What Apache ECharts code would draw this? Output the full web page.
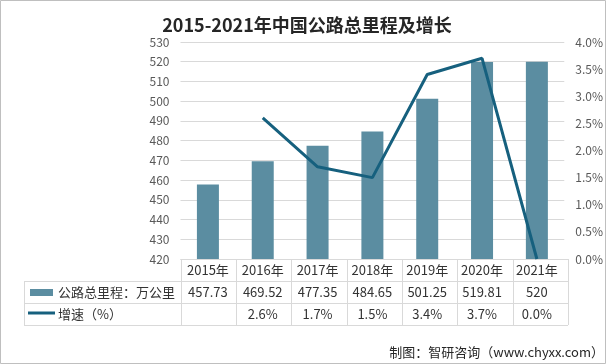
<!DOCTYPE html>
<html><head><meta charset="utf-8">
<script src="https://cdn.jsdelivr.net/npm/echarts@6/dist/echarts.min.js"></script>
<style>html,body{margin:0;padding:0;background:#fff}#c{width:606px;height:364px}</style>
</head><body><div id="c"></div>
<script>
const title = '2015-2021年中国公路总里程及增长';
const categories = ['2015年','2016年','2017年','2018年','2019年','2020年','2021年'];
const mileage = [457.73, 469.52, 477.35, 484.65, 501.25, 519.81, 520];
const mileageLabels = ['457.73','469.52','477.35','484.65','501.25','519.81','520'];
const growth = [null, 2.6, 1.7, 1.5, 3.4, 3.7, 0.0];
const growthLabels = ['', '2.6%', '1.7%', '1.5%', '3.4%', '3.7%', '0.0%'];
const seriesNames = ['公路总里程：万公里', '增速（%）'];
const source = '制图：智研咨询（www.chyxx.com）';

const FONT = '"Noto Sans CJK SC","Noto Sans",sans-serif';
const barColor = '#5b8da1';
const lineColor = '#16607e';
const gridColor = '#d9d9d9';
const textColor = '#595959';

const G = {left: 180.5, right: 38, top: 42, bottom: 105};
const chart = echarts.init(document.getElementById('c'));
chart.setOption({
  animation: false,
  backgroundColor: '#fff',
  title: {text: title, left: 302, top: 11, textAlign: 'center',
    textStyle: {fontFamily: FONT, fontSize: 18, fontWeight: 'bold', color: '#262626'}},
  grid: G,
  xAxis: {type: 'category', data: categories, axisLine: {show: false}, axisTick: {show: false},
    axisLabel: {show: false}},
  yAxis: [
    {type: 'value', min: 420, max: 530, interval: 10, axisLine: {show: false}, axisTick: {show: false},
     splitLine: {lineStyle: {color: gridColor}},
     axisLabel: {color: textColor, fontSize: 12, margin: 11, fontFamily: FONT}},
    {type: 'value', min: 0, max: 4, interval: 0.5, axisLine: {show: false}, axisTick: {show: false},
     splitLine: {show: false},
     axisLabel: {color: textColor, fontSize: 12, margin: 11, fontFamily: FONT,
       formatter: v => v.toFixed(1) + '%'}}
  ],
  series: [
    {name: seriesNames[0], type: 'bar', data: mileage, barWidth: 22, itemStyle: {color: barColor}},
    {name: seriesNames[1], type: 'line', yAxisIndex: 1, data: growth, symbol: 'none',
     lineStyle: {color: lineColor, width: 3}, itemStyle: {color: lineColor}}
  ]
});

// Data table built from the arrays, aligned to the category axis
const els = [];
const rowY = [259, 281, 303, 325];
const tableLeft = 24;
const plotRight = 606 - G.right;
const n = categories.length;
const colW = (plotRight - G.left) / n;
const ls = {stroke: gridColor, lineWidth: 1};
els.push({type: 'line', shape: {x1: G.left, y1: rowY[0] + 0.5, x2: plotRight, y2: rowY[0] + 0.5}, style: ls});
for (let r = 1; r < 4; r++) els.push({type: 'line', shape: {x1: tableLeft, y1: rowY[r] + 0.5, x2: plotRight, y2: rowY[r] + 0.5}, style: ls});
els.push({type: 'line', shape: {x1: tableLeft + 0.5, y1: rowY[1], x2: tableLeft + 0.5, y2: rowY[3]}, style: ls});
for (let i = 0; i <= n; i++) {
  const x = Math.round(G.left + i * colW) + 0.5;
  els.push({type: 'line', shape: {x1: x, y1: rowY[0], x2: x, y2: rowY[3]}, style: ls});
}
const ts = (t, x, y, align) => ({type: 'text', x: x, y: y,
  style: {text: t, fill: '#333333', font: '13px ' + FONT, textAlign: align || 'center', textVerticalAlign: 'middle'}});
for (let i = 0; i < n; i++) {
  const cx = chart.convertToPixel({xAxisIndex: 0}, categories[i]);
  els.push(ts(categories[i], cx, (rowY[0] + rowY[1]) / 2));
  els.push(ts(mileageLabels[i], cx, (rowY[1] + rowY[2]) / 2));
  els.push(ts(growthLabels[i], cx, (rowY[2] + rowY[3]) / 2));
}
els.push({type: 'rect', shape: {x: 30, y: 289, width: 23, height: 7}, style: {fill: barColor}});
els.push(ts(seriesNames[0], 58, (rowY[1] + rowY[2]) / 2, 'left'));
els.push({type: 'line', shape: {x1: 28, y1: 313, x2: 55, y2: 313}, style: {stroke: lineColor, lineWidth: 3}});
els.push(ts(seriesNames[1], 58, (rowY[2] + rowY[3]) / 2, 'left'));
els.push({type: 'text', x: 604, y: 352, style: {text: source, fill: '#262626', font: '13px ' + FONT, textAlign: 'right', textVerticalAlign: 'middle'}});
els.push({type: 'rect', shape: {x: 0.5, y: 0.5, width: 605, height: 363}, style: {fill: 'none', stroke: '#bfbfbf', lineWidth: 1}});
chart.setOption({graphic: {elements: els}});
</script>
</body></html>
